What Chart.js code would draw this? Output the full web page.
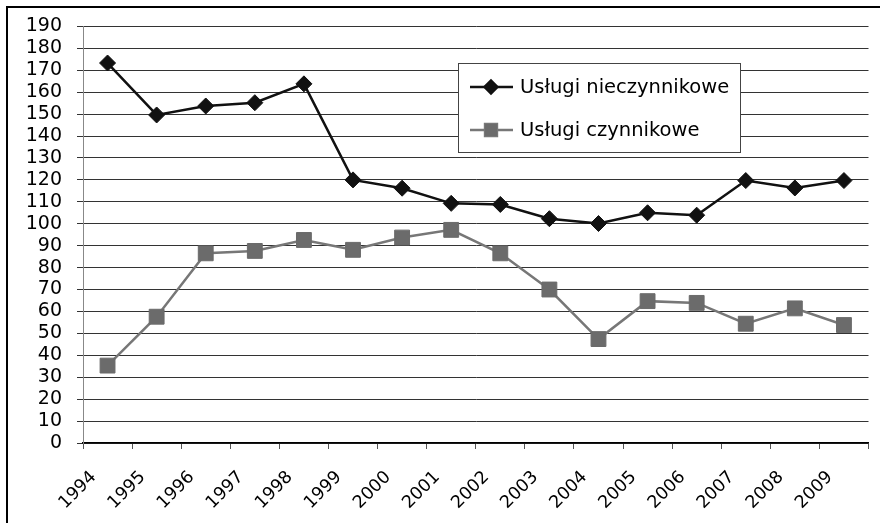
<!DOCTYPE html>
<html>
<head>
<meta charset="utf-8">
<script src="https://cdn.jsdelivr.net/npm/chart.js@4/dist/chart.umd.min.js"></script>
<style>
  html, body { margin: 0; padding: 0; background: #fff; overflow: hidden; }
  #wrap { position: relative; width: 880px; height: 523px; overflow: hidden; }
  #frame {
    position: absolute; left: 6px; top: 6px; width: 900px; height: 540px;
    border-left: 2px solid #000; border-top: 2px solid #000; pointer-events: none;
  }
</style>
</head>
<body>
<div id="wrap">
  <canvas id="servicesChart" width="880" height="523"></canvas>
  <div id="frame"></div>
</div>
<script>
// data
var years = ['1994', '1995', '1996', '1997', '1998', '1999', '2000', '2001',
             '2002', '2003', '2004', '2005', '2006', '2007', '2008', '2009'];
var nieczynnikowe = [173.3, 149.6, 153.7, 155.2, 163.8, 120.0, 116.2, 109.3,
                     108.8, 102.3, 100.1, 105.0, 103.9, 119.7, 116.3, 119.7];
var czynnikowe = [35.3, 57.6, 86.5, 87.6, 92.6, 88.1, 93.7, 97.2,
                  86.5, 70.0, 47.4, 64.7, 63.9, 54.4, 61.4, 53.8];
var seriesNames = ['Usługi nieczynnikowe', 'Usługi czynnikowe'];
var yMin = 0, yMax = 190, yStep = 10;

var FONT = '"DejaVu Sans", sans-serif';

// legend box drawn inside the plot, like the original
var boxLegend = {
    id: 'boxLegend',
    afterDraw: function(chart) {
        var ctx = chart.ctx;
        var x = 458, y = 63, w = 282, h = 89;
        ctx.save();
        ctx.fillStyle = '#fff';
        ctx.fillRect(x, y, w, h);
        ctx.strokeStyle = '#444';
        ctx.lineWidth = 1;
        ctx.strokeRect(x + 0.5, y + 0.5, w, h);
        ctx.font = '19.5px ' + FONT;
        ctx.textBaseline = 'middle';
        var rows = [87, 130];
        chart.data.datasets.forEach(function(ds, i) {
            var cy = rows[i];
            ctx.strokeStyle = ds.borderColor;
            ctx.lineWidth = ds.borderWidth;
            ctx.beginPath();
            ctx.moveTo(470, cy);
            ctx.lineTo(513, cy);
            ctx.stroke();
            Chart.helpers.drawPoint(ctx, {
                pointStyle: ds.pointStyle,
                radius: ds.pointRadius * 0.8,
                borderWidth: 1
            }, 491, cy);
            ctx.fillStyle = ds.pointBackgroundColor;
            ctx.strokeStyle = ds.pointBorderColor;
            ctx.fill();
            ctx.fillStyle = '#000';
            ctx.fillText(ds.label, 520, cy + 1);
        });
        ctx.restore();
    }
};

var ctx = document.getElementById('servicesChart').getContext('2d');
new Chart(ctx, {
    type: 'line',
    data: {
        labels: years,
        datasets: [{
            label: seriesNames[0],
            data: nieczynnikowe,
            borderColor: '#111',
            borderWidth: 2.5,
            pointStyle: 'rectRot',
            pointRadius: 8,
            pointBackgroundColor: '#111',
            pointBorderColor: '#111',
            pointBorderWidth: 1,
            tension: 0
        }, {
            label: seriesNames[1],
            data: czynnikowe,
            borderColor: '#777',
            borderWidth: 2.5,
            pointStyle: 'rect',
            pointRadius: 10.5,
            pointBackgroundColor: '#6b6b6b',
            pointBorderColor: '#6b6b6b',
            pointBorderWidth: 1,
            tension: 0
        }]
    },
    options: {
        responsive: false,
        animation: false,
        layout: { padding: { left: 0, top: 23, right: 3, bottom: 0 } },
        plugins: {
            legend: { display: false },
            tooltip: { enabled: false }
        },
        scales: {
            x: {
                type: 'category',
                offset: true,
                grid: {
                    display: true,
                    drawOnChartArea: false,
                    offset: true,
                    tickLength: 6,
                    color: '#555'
                },
                border: { color: '#000', width: 1.5 },
                ticks: {
                    autoSkip: false,
                    minRotation: 45,
                    maxRotation: 45,
                    labelOffset: -14,
                    padding: 18,
                    color: '#000',
                    font: { family: FONT, size: 17.5 }
                },
                afterFit: function(scale) { scale.height = 80; }
            },
            y: {
                min: yMin,
                max: yMax,
                grid: {
                    color: '#333',
                    lineWidth: 1,
                    tickLength: 6
                },
                border: { color: '#888', width: 1 },
                ticks: {
                    stepSize: yStep,
                    autoSkip: false,
                    padding: 15,
                    color: '#000',
                    font: { family: FONT, size: 19 }
                },
                afterFit: function(scale) { scale.width = 83; }
            }
        }
    },
    plugins: [boxLegend]
});
</script>
</body>
</html>
